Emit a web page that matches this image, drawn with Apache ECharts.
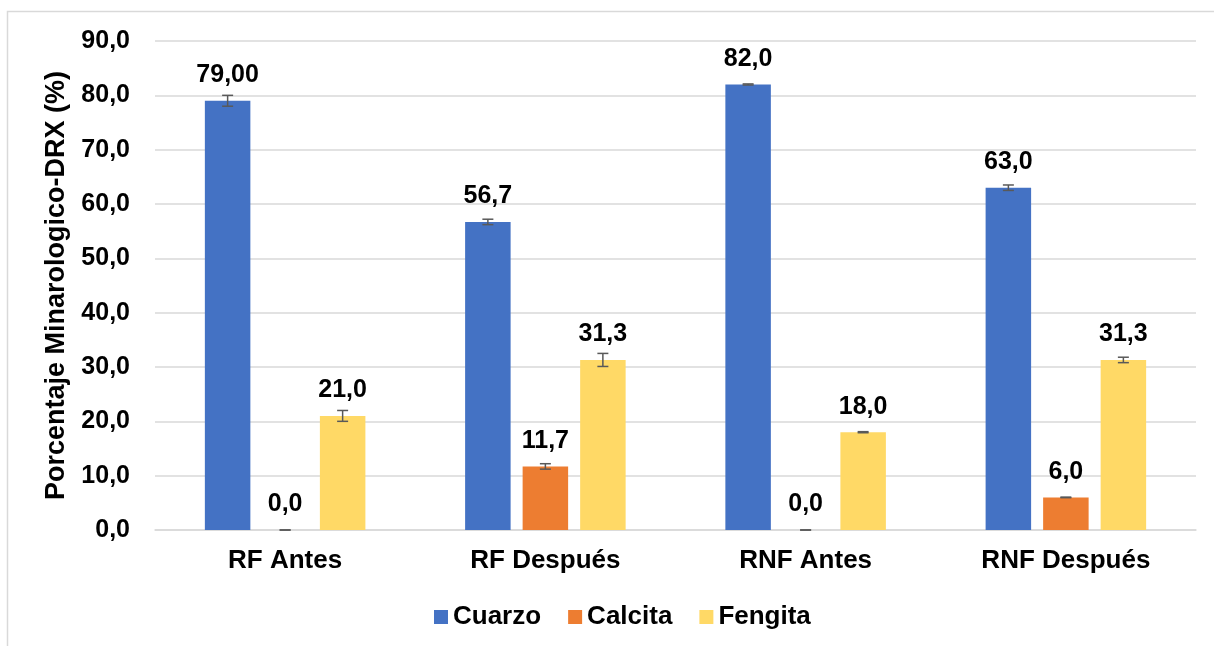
<!DOCTYPE html>
<html>
<head>
<meta charset="utf-8">
<script src="https://cdn.jsdelivr.net/npm/echarts@6/dist/echarts.min.js"></script>
<style>html,body{margin:0;padding:0;background:#fff}#c{width:1214px;height:646px}</style>
</head>
<body>
<div id="c"></div>
<script>
var categories = ['RF Antes', 'RF Después', 'RNF Antes', 'RNF Después'];
var seriesNames = ['Cuarzo', 'Calcita', 'Fengita'];
var cuarzo = [79.0, 56.7, 82.0, 63.0];
var calcita = [0.0, 11.7, 0.0, 6.0];
var fengita = [21.0, 31.3, 18.0, 31.3];
var cuarzoErr = [1.0, 0.5, 0.1, 0.5];
var calcitaErr = [0.0, 0.5, 0.0, 0.05];
var fengitaErr = [1.0, 1.2, 0.1, 0.5];
var cuarzoLabels = ['79,00', '56,7', '82,0', '63,0'];
var calcitaLabels = ['0,0', '11,7', '0,0', '6,0'];
var fengitaLabels = ['21,0', '31,3', '18,0', '31,3'];
var yTicks = { min: 0, max: 90, interval: 10 };

var colors = ['#4472C4', '#ED7D31', '#FFD966'];
var values = [cuarzo, calcita, fengita];
var errs = [cuarzoErr, calcitaErr, fengitaErr];
var labels = [cuarzoLabels, calcitaLabels, fengitaLabels];
var FONT = '"Liberation Sans", Arial, sans-serif';
var BAR_W = 45.5, GAP = 12;

var chart = echarts.init(document.getElementById('c'), null, { renderer: 'canvas' });
var series = [];
seriesNames.forEach(function (name, s) {
  series.push({
    name: name,
    type: 'bar',
    data: values[s],
    barWidth: BAR_W,
    barGap: (GAP / BAR_W * 100).toFixed(1) + '%',
    itemStyle: { color: colors[s] },
    label: {
      show: true, position: 'top', distance: 13,
      color: '#000', fontFamily: FONT, fontWeight: 'bold', fontSize: 25,
      formatter: (function (arr) { return function (p) { return arr[p.dataIndex]; }; })(labels[s])
    },
    z: 2
  });
});
seriesNames.forEach(function (name, s) {
  var offset = (s - 1) * (BAR_W + GAP);
  series.push({
    type: 'custom',
    name: name + ' err',
    data: values[s].map(function (v, i) { return [i, v - errs[s][i], v + errs[s][i]]; }),
    encode: { x: 0, y: [1, 2] },
    z: 5,
    silent: true,
    renderItem: function (params, api) {
      var lo = api.coord([api.value(0), api.value(1)]);
      var hi = api.coord([api.value(0), api.value(2)]);
      var x = lo[0] + offset;
      var cap = 5.5;
      var st = { stroke: '#595959', lineWidth: 1.5 };
      return {
        type: 'group',
        children: [
          { type: 'line', shape: { x1: x, y1: lo[1], x2: x, y2: hi[1] }, style: st },
          { type: 'line', shape: { x1: x - cap, y1: lo[1], x2: x + cap, y2: lo[1] }, style: st },
          { type: 'line', shape: { x1: x - cap, y1: hi[1], x2: x + cap, y2: hi[1] }, style: st }
        ]
      };
    }
  });
});

chart.setOption({
  animation: false,
  backgroundColor: '#fff',
  grid: { left: 155, right: 18, top: 41, bottom: 116, containLabel: false },
  legend: {
    data: seriesNames,
    bottom: 11,
    left: 429,
    itemWidth: 14, itemHeight: 14, itemGap: 27,
    icon: 'rect',
    textStyle: { fontFamily: FONT, fontWeight: 'bold', fontSize: 26, color: '#000' }
  },
  xAxis: {
    type: 'category',
    data: categories,
    axisLine: { lineStyle: { color: '#d9d9d9', width: 1.5 } },
    axisTick: { show: false },
    axisLabel: { margin: 18, fontFamily: FONT, fontWeight: 'bold', fontSize: 26, color: '#000' }
  },
  yAxis: {
    type: 'value',
    min: yTicks.min, max: yTicks.max, interval: yTicks.interval,
    name: 'Porcentaje Minarologico-DRX (%)',
    nameLocation: 'middle',
    nameGap: 85,
    nameTextStyle: { fontFamily: FONT, fontWeight: 'bold', fontSize: 27, color: '#000' },
    axisLine: { show: false },
    axisTick: { show: false },
    splitLine: { lineStyle: { color: '#d9d9d9', width: 1.5 } },
    axisLabel: {
      margin: 25, fontFamily: FONT, fontWeight: 'bold', fontSize: 25, color: '#000',
      formatter: function (v) { return v.toFixed(1).replace('.', ','); }
    }
  },
  graphic: [{
    type: 'rect', silent: true, z: -1,
    shape: { x: 7.5, y: 11.5, width: 1230, height: 660 },
    style: { fill: 'none', stroke: '#d9d9d9', lineWidth: 1.5 }
  }],
  series: series
});
</script>
</body>
</html>
